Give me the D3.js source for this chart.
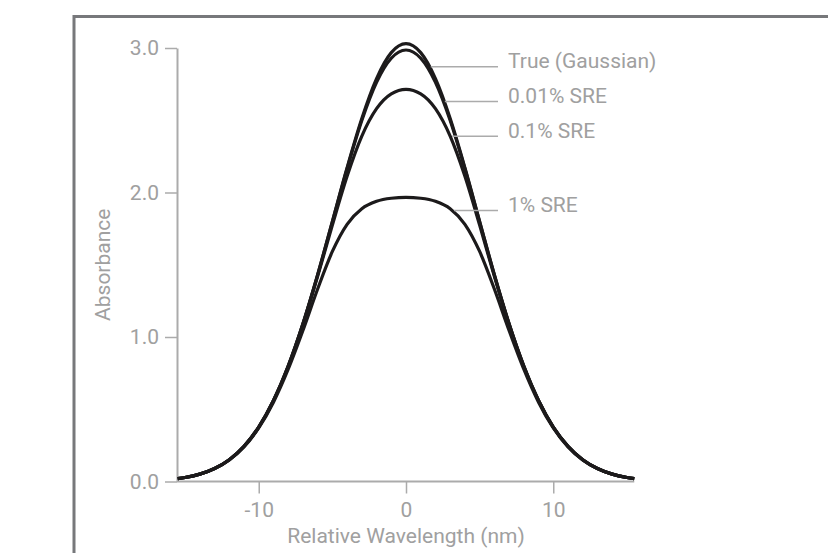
<!DOCTYPE html>
<html>
<head>
<meta charset="utf-8">
<script src="https://cdn.jsdelivr.net/npm/d3@7"></script>
<style>
  html, body { margin: 0; padding: 0; background: #fff; }
  svg { display: block; }
  text { font-family: Roboto, "Noto Sans", sans-serif; font-weight: 400; }
</style>
</head>
<body>
<svg id="chart" width="828" height="553"></svg>
<script>
// Relative wavelength samples (nm)
const wavelength = [-15.5, -15, -14, -13, -12, -11, -10, -9, -8, -7, -6, -5, -4, -3, -2, -1, 0,
                    1, 2, 3, 4, 5, 6, 7, 8, 9, 10, 11, 12, 13, 14, 15, 15.5];

// Absorbance of the true Gaussian band
const trueGaussian = [0.020, 0.028, 0.051, 0.090, 0.151, 0.244, 0.377, 0.561, 0.799, 1.092, 1.431, 1.800, 2.171, 2.512, 2.788, 2.968, 3.030,
                      2.968, 2.788, 2.512, 2.171, 1.800, 1.431, 1.092, 0.799, 0.561, 0.377, 0.244, 0.151, 0.090, 0.051, 0.028, 0.020];
// Measured absorbance with 0.01% stray radiant energy
const sre001 = [0.020, 0.028, 0.051, 0.090, 0.151, 0.244, 0.377, 0.561, 0.799, 1.091, 1.430, 1.797, 2.165, 2.498, 2.762, 2.929, 2.986,
                2.929, 2.762, 2.498, 2.165, 1.797, 1.430, 1.091, 0.799, 0.561, 0.377, 0.244, 0.151, 0.090, 0.051, 0.028, 0.020];
// Measured absorbance with 0.1% stray radiant energy
const sre01 = [0.020, 0.028, 0.051, 0.090, 0.151, 0.244, 0.377, 0.559, 0.796, 1.087, 1.420, 1.774, 2.112, 2.390, 2.580, 2.683, 2.714,
               2.683, 2.580, 2.390, 2.112, 1.774, 1.420, 1.087, 0.796, 0.559, 0.377, 0.244, 0.151, 0.090, 0.051, 0.028, 0.020];
// Measured absorbance with 1% stray radiant energy
const sre1 = [0.020, 0.028, 0.051, 0.089, 0.149, 0.240, 0.371, 0.549, 0.777, 1.045, 1.332, 1.592, 1.780, 1.888, 1.939, 1.960, 1.966,
              1.960, 1.939, 1.888, 1.780, 1.592, 1.332, 1.045, 0.777, 0.549, 0.371, 0.240, 0.149, 0.089, 0.051, 0.028, 0.020];

const seriesNames = ["True (Gaussian)", "0.01% SRE", "0.1% SRE", "1% SRE"];
const seriesValues = [trueGaussian, sre001, sre01, sre1];
// Absorbance level at which each series is labelled (right flank)
const labelLevels = [2.87, 2.63, 2.39, 1.875];

const xTicks = [-10, 0, 10];
const yTicks = [0, 1, 2, 3];

const svg = d3.select("#chart");

// Outer frame, running off the right and bottom edges
svg.append("rect")
  .attr("x", 74).attr("y", 16.5)
  .attr("width", 900).attr("height", 700)
  .attr("fill", "none")
  .attr("stroke", "#77787b")
  .attr("stroke-width", 3);

const x = d3.scaleLinear().domain([-15.55, 15.55]).range([177, 635]);
const y = d3.scaleLinear().domain([0, 3]).range([481.5, 48]);

const axisColor = "#ababab";
const textColor = "#a0a0a0";
const fontSize = 21;

// X axis
const gx = svg.append("g")
  .attr("transform", `translate(0,${y(0)})`)
  .call(d3.axisBottom(x).tickValues(xTicks).tickSize(12).tickSizeOuter(0).tickPadding(9).tickFormat(d => String(d)));
// Y axis
const gy = svg.append("g")
  .attr("transform", `translate(${x.range()[0]},0)`)
  .call(d3.axisLeft(y).tickValues(yTicks).tickSize(12).tickSizeOuter(0).tickPadding(6).tickFormat(d3.format(".1f")));

[gx, gy].forEach(g => {
  g.select(".domain").attr("stroke", axisColor).attr("stroke-width", 2);
  g.selectAll(".tick line").attr("stroke", axisColor).attr("stroke-width", 1.5);
  g.selectAll(".tick text")
    .attr("fill", textColor)
    .style("font-size", fontSize + "px")
    .style("font-family", "Roboto, sans-serif")
    .style("font-weight", 400);
});
gx.select(".domain").attr("d", `M${x.range()[0]},0H${x(15.5)}`);

// Axis titles
svg.append("text")
  .attr("x", x(0)).attr("y", 543)
  .attr("text-anchor", "middle")
  .attr("fill", textColor)
  .style("font-size", fontSize + "px")
  .text("Relative Wavelength (nm)");

svg.append("text")
  .attr("transform", `translate(110,${(y(1) + y(2)) / 2}) rotate(-90)`)
  .attr("text-anchor", "middle")
  .attr("fill", textColor)
  .style("font-size", fontSize + "px")
  .text("Absorbance");

// Curves
const line = d3.line()
  .x((d, i) => x(wavelength[i]))
  .y(d => y(d))
  .curve(d3.curveMonotoneX);

svg.append("g")
  .selectAll("path")
  .data(seriesValues)
  .join("path")
  .attr("d", d => line(d))
  .attr("fill", "none")
  .attr("stroke", "#1c1a1b")
  .attr("stroke-width", 3.2)
  .attr("stroke-linejoin", "round");

// Wavelength where a series falls through a given level on its right flank
function crossing(values, level) {
  for (let i = values.length - 1; i > 0; i--) {
    const a = values[i - 1], b = values[i];
    if (wavelength[i] > 0 && a >= level && b < level) {
      const t = (a - level) / (a - b);
      return wavelength[i - 1] + t * (wavelength[i] - wavelength[i - 1]);
    }
  }
  return 0;
}

const leaderEnd = 498;
const labelX = 508;
const labels = svg.append("g");
seriesNames.forEach((name, k) => {
  const ly = y(labelLevels[k]);
  labels.append("line")
    .attr("x1", x(crossing(seriesValues[k], labelLevels[k])) + 2)
    .attr("x2", leaderEnd)
    .attr("y1", ly).attr("y2", ly)
    .attr("stroke", axisColor)
    .attr("stroke-width", 1.5);
  labels.append("text")
    .attr("x", labelX).attr("y", ly + 1.5)
    .attr("fill", textColor)
    .style("font-size", fontSize + "px")
    .text(name);
});
</script>
</body>
</html>
